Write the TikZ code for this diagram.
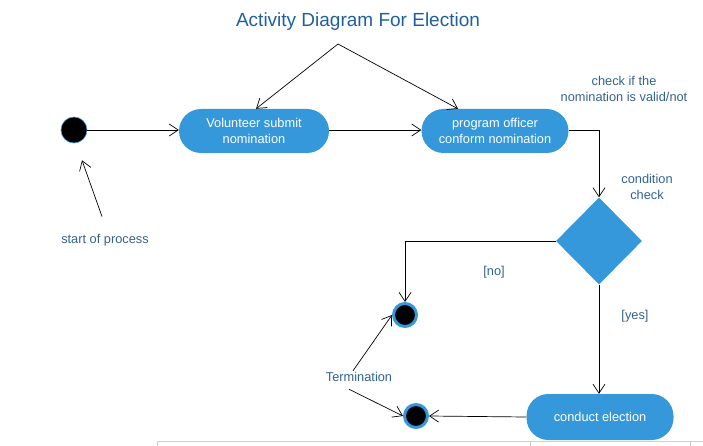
\documentclass[tikz,border=0pt]{standalone}
\usepackage{fontspec}
\setmainfont{Liberation Sans}
\usetikzlibrary{shapes.geometric, arrows.meta, positioning, calc}
\definecolor{actblue}   {HTML}{3498DB}
\definecolor{titletext} {HTML}{1F5F9E}
\definecolor{notetext}  {HTML}{33628F}
\definecolor{frameline} {HTML}{D0D0D0}

\begin{document}
\begin{tikzpicture}[x=1pt,y=-1pt,
  activity/.style={fill=actblue,text=white,rounded corners=22pt,minimum width=150pt,
    minimum height=44pt,align=center,font=\fontsize{12.8}{16}\selectfont},
  decision/.style={diamond,fill=actblue,minimum width=86pt,minimum height=87pt,inner sep=0pt},
  startnode/.style={circle,fill=black,draw=actblue,line width=0.6pt,minimum size=26pt,inner sep=0pt},
  endnode/.style={circle,fill=black,draw=actblue,line width=3pt,minimum size=23pt,inner sep=0pt},
  note/.style={text=notetext,align=center,font=\fontsize{12.8}{16}\selectfont},
  flow/.style={-{Straight Barb[length=9pt,width=12pt]},line width=0.7pt}]
\useasboundingbox (0,0) rectangle (703,446);
% frame of the screenshot
\draw[frameline] (157,446) -- (157,441.5) -- (703,441.5);
\draw[frameline] (530,441.5) -- (530,446);
\draw[frameline] (690,441.5) -- (690,446);
% title
\node[text=titletext,font=\fontsize{19}{23}\selectfont] (title) at (358,22) {Activity Diagram For Election};
\coordinate (fork) at (338,44);
% activities
\node[startnode] (start) at (74,130) {};
\node[activity] (volunteer) at (254,131) {Volunteer submit\\nomination};
\node[activity,minimum width=147pt] (officer) at (495,131) {program officer\\conform nomination};
\node[decision] (check) at (599,241) {};
\node[activity,minimum width=147pt,minimum height=46pt] (election) at (600,417) {conduct election};
\node[endnode] (endno) at (405,315) {};
\node[endnode] (endyes) at (416,416) {};
% notes
\node[note] (validnote) at (624,89) {check if the\\nomination is valid/not};
\node[note] (condnote) at (647,187) {condition\\check};
\node[note] (nolabel) at (494,272) {[no]};
\node[note] (yeslabel) at (635,316) {[yes]};
\node[note] (termnote) at (359,377) {Termination};
\node[note] (startnote) at (105,240) {start of process};
% flows
\draw[flow] (fork) -- ($(volunteer.north)+(2,0)$);
\draw[flow] (fork) -- ($(officer.north)+(-37,0)$);
\draw[flow] (start) -- (start -| volunteer.west);
\draw[flow] (volunteer.east |- start) -- (officer.west |- start);
\draw[flow] (officer.east |- start) -| (check.north);
\draw[flow] (check.west) -| (endno.north);
\draw[flow] (check.south) -- (check.south |- election.north);
\draw[flow] (election.west) -- (endyes.east);
\draw[flow] ($(startnote.north)+(-3,-14)$) -- ($(start.south)+(8,17)$);
\draw[flow] ($(termnote.north)+(-6,2)$) -- (endno.west);
\draw[flow] ($(termnote.south)+(-10,4)$) -- (endyes.west);
\end{tikzpicture}
\end{document}
